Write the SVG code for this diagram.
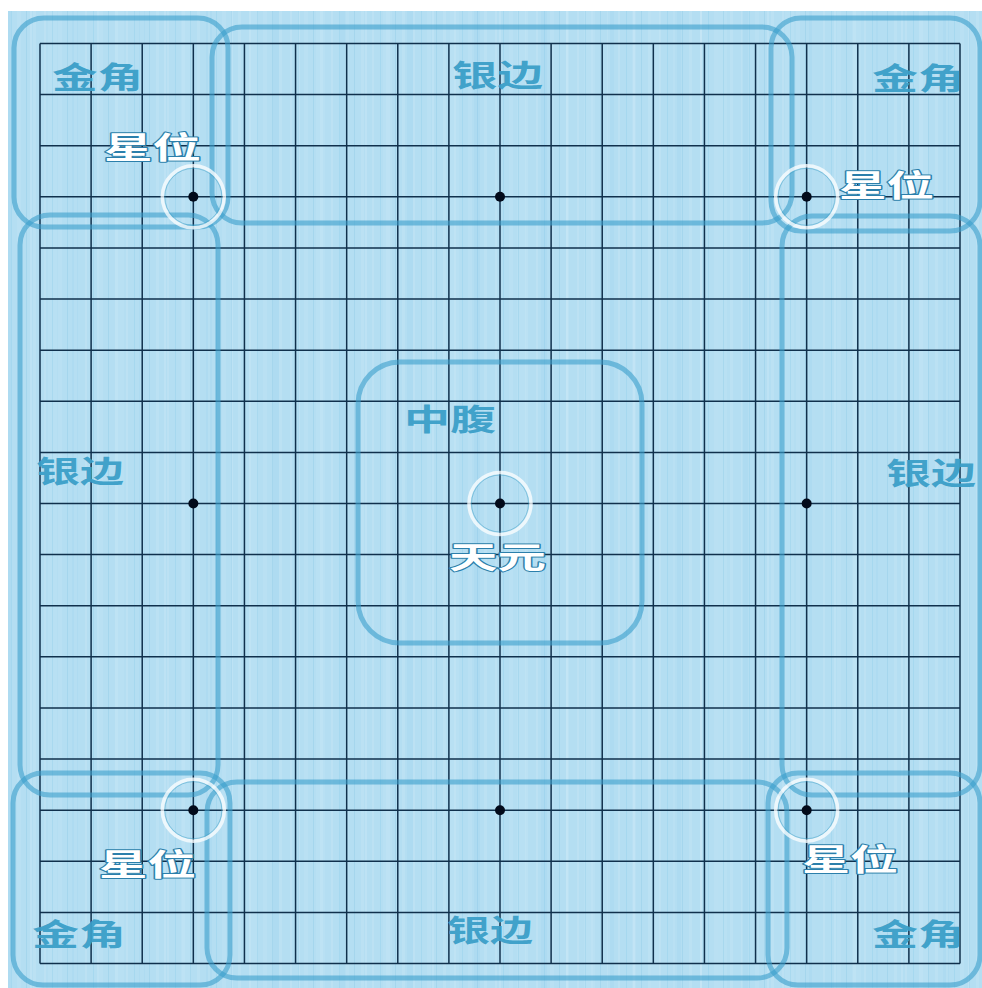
<svg xmlns="http://www.w3.org/2000/svg" width="982" height="988" viewBox="0 0 982 988">
<defs>
<style>
.bg{fill:#b4def2}
.grid{fill:none;stroke:#10304c;stroke-width:1.5}
.zone{fill:none;stroke:#3a9fcc;stroke-opacity:0.6;stroke-width:5}
.star{fill:#020a1a}
.ring{fill:none;stroke:#ffffff;stroke-opacity:0.75;stroke-width:3.5}
.ring2{fill:none;stroke:#3f9fc6;stroke-opacity:0.5;stroke-width:1}
.lbl{font-family:"Noto Sans CJK SC","Noto Sans CJK TC",sans-serif;font-weight:700;font-size:30px;fill:#3a9ec8;fill-opacity:0.95}
.pt{font-family:"Noto Sans CJK SC","Noto Sans CJK TC",sans-serif;font-weight:700;font-size:30px;fill:#ffffff;stroke:#2b7fab;stroke-width:2;paint-order:stroke;stroke-linejoin:round}
</style>
<pattern id="wood1" patternUnits="userSpaceOnUse" width="41" height="988">
<rect x="3" y="0" width="2" height="988" fill="#ffffff" fill-opacity="0.1"/>
<rect x="11" y="0" width="1" height="988" fill="#6fbfe0" fill-opacity="0.2"/>
<rect x="17" y="0" width="4" height="988" fill="#ffffff" fill-opacity="0.07"/>
<rect x="26" y="0" width="1" height="988" fill="#5fb3da" fill-opacity="0.18"/>
<rect x="33" y="0" width="3" height="988" fill="#ffffff" fill-opacity="0.09"/>
</pattern>
<pattern id="wood2" patternUnits="userSpaceOnUse" width="67" height="988">
<rect x="5" y="0" width="6" height="988" fill="#8ccbe8" fill-opacity="0.15"/>
<rect x="30" y="0" width="2" height="988" fill="#ffffff" fill-opacity="0.12"/>
<rect x="48" y="0" width="9" height="988" fill="#c8ebfa" fill-opacity="0.18"/>
</pattern>
</defs>
<g id="board">
<rect class="bg" x="8" y="11" width="974" height="977"/>
<rect x="8" y="11" width="974" height="977" fill="url(#wood2)"/>
<rect x="8" y="11" width="974" height="977" fill="url(#wood1)"/>
<path class="grid" d="M40 43.5V963.5M91.11 43.5V963.5M142.22 43.5V963.5M193.33 43.5V963.5M244.44 43.5V963.5M295.56 43.5V963.5M346.67 43.5V963.5M397.78 43.5V963.5M448.89 43.5V963.5M500 43.5V963.5M551.11 43.5V963.5M602.22 43.5V963.5M653.33 43.5V963.5M704.44 43.5V963.5M755.56 43.5V963.5M806.67 43.5V963.5M857.78 43.5V963.5M908.89 43.5V963.5M960 43.5V963.5M40 43.5H960M40 94.61H960M40 145.72H960M40 196.83H960M40 247.94H960M40 299.06H960M40 350.17H960M40 401.28H960M40 452.39H960M40 503.5H960M40 554.61H960M40 605.72H960M40 656.83H960M40 707.94H960M40 759.06H960M40 810.17H960M40 861.28H960M40 912.39H960M40 963.5H960"/>
<g id="stars">
<circle class="star" cx="193.33" cy="196.83" r="5"/>
<circle class="star" cx="500" cy="196.83" r="5"/>
<circle class="star" cx="806.67" cy="196.83" r="5"/>
<circle class="star" cx="193.33" cy="503.5" r="5"/>
<circle class="star" cx="500" cy="503.5" r="5"/>
<circle class="star" cx="806.67" cy="503.5" r="5"/>
<circle class="star" cx="193.33" cy="810.17" r="5"/>
<circle class="star" cx="500" cy="810.17" r="5"/>
<circle class="star" cx="806.67" cy="810.17" r="5"/>
</g>
</g>
<g id="zones">
<g id="corner-tl"><rect class="zone" x="14" y="18" width="214" height="209" rx="30"/></g>
<g id="side-top"><rect class="zone" x="212" y="27" width="580" height="196" rx="30"/></g>
<g id="corner-tr"><rect class="zone" x="771" y="18" width="209" height="213" rx="30"/></g>
<g id="side-left"><rect class="zone" x="20" y="215" width="198" height="580" rx="30"/></g>
<g id="side-right"><rect class="zone" x="782" y="216" width="198" height="579" rx="30"/></g>
<g id="corner-bl"><rect class="zone" x="13" y="773" width="217" height="212" rx="30"/></g>
<g id="side-bottom"><rect class="zone" x="207" y="782" width="580" height="196" rx="30"/></g>
<g id="corner-br"><rect class="zone" x="768" y="773" width="212" height="212" rx="30"/></g>
<g id="center"><rect class="zone" x="358" y="362" width="284" height="281" rx="42"/></g>
</g>
<g id="rings">
<g id="ring-tl"><circle class="ring" cx="193.33" cy="196.83" r="31"/><circle class="ring2" cx="193.33" cy="196.83" r="28.5"/></g>
<g id="ring-tr"><circle class="ring" cx="806.67" cy="196.83" r="31"/><circle class="ring2" cx="806.67" cy="196.83" r="28.5"/></g>
<g id="ring-c"><circle class="ring" cx="500" cy="503.5" r="31"/><circle class="ring2" cx="500" cy="503.5" r="28.5"/></g>
<g id="ring-bl"><circle class="ring" cx="193.33" cy="810.17" r="31"/><circle class="ring2" cx="193.33" cy="810.17" r="28.5"/></g>
<g id="ring-br"><circle class="ring" cx="806.67" cy="810.17" r="31"/><circle class="ring2" cx="806.67" cy="810.17" r="28.5"/></g>
</g>
<g id="labels">
<text class="lbl" x="52" y="88" textLength="91" lengthAdjust="spacingAndGlyphs">金角</text>
<text class="lbl" x="452" y="86" textLength="91" lengthAdjust="spacingAndGlyphs">银边</text>
<text class="lbl" x="872" y="89" textLength="92" lengthAdjust="spacingAndGlyphs">金角</text>
<text class="lbl" x="36" y="482" textLength="88" lengthAdjust="spacingAndGlyphs">银边</text>
<text class="lbl" x="886" y="484" textLength="90" lengthAdjust="spacingAndGlyphs">银边</text>
<text class="lbl" x="404" y="430" textLength="92" lengthAdjust="spacingAndGlyphs">中腹</text>
<text class="lbl" x="32" y="945" textLength="94" lengthAdjust="spacingAndGlyphs">金角</text>
<text class="lbl" x="447" y="941" textLength="86" lengthAdjust="spacingAndGlyphs">银边</text>
<text class="lbl" x="872" y="945" textLength="92" lengthAdjust="spacingAndGlyphs">金角</text>
<text class="pt" x="104" y="158" textLength="97" lengthAdjust="spacingAndGlyphs">星位</text>
<text class="pt" x="839" y="196" textLength="95" lengthAdjust="spacingAndGlyphs">星位</text>
<text class="pt" x="449" y="568" textLength="97" lengthAdjust="spacingAndGlyphs">天元</text>
<text class="pt" x="99" y="875" textLength="97" lengthAdjust="spacingAndGlyphs">星位</text>
<text class="pt" x="802" y="870" textLength="96" lengthAdjust="spacingAndGlyphs">星位</text>
</g>
</svg>
